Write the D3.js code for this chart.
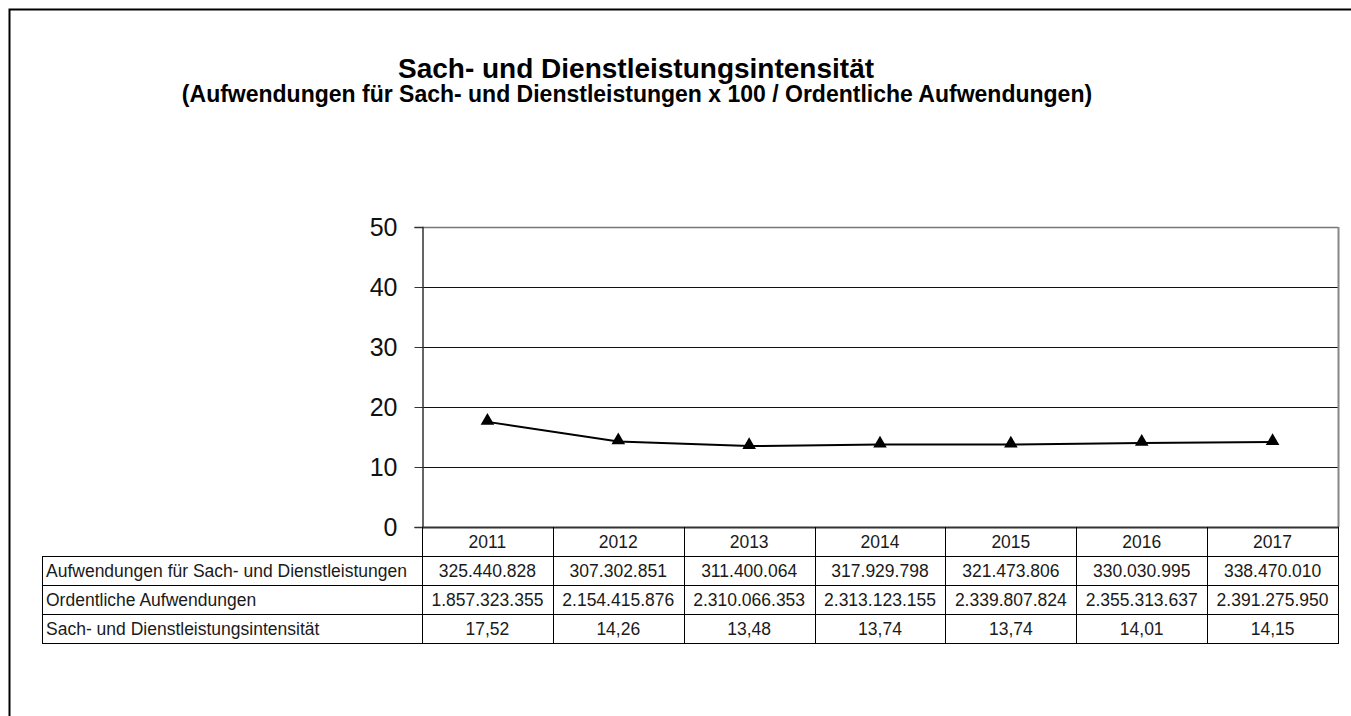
<!DOCTYPE html>
<meta charset="utf-8">
<style>
body { margin: 0; background: #fff; }
svg { display: block; font-family: "Liberation Sans", Arial, sans-serif; }
.tbl line { stroke: #000; stroke-width: 1; }
.tbl text { font-size: 17.5px; fill: #1a1a1a; }
</style>
<svg width="1351" height="716"></svg>
<script src="https://d3js.org/d3.v7.min.js"></script>
<script>

var years = ["2011", "2012", "2013", "2014", "2015", "2016", "2017"];
var aufwSach = [325440828, 307302851, 311400064, 317929798, 321473806, 330030995, 338470010];
var ordAufw = [1857323355, 2154415876, 2310066353, 2313123155, 2339807824, 2355313637, 2391275950];
var intensitaet = [17.52, 14.26, 13.48, 13.74, 13.74, 14.01, 14.15];
var yTicks = [0, 10, 20, 30, 40, 50];
var rowLabels = ["Aufwendungen für Sach- und Dienstleistungen", "Ordentliche Aufwendungen", "Sach- und Dienstleistungsintensität"];

var de = d3.formatLocale({decimal: ",", thousands: ".", grouping: [3], currency: ["", " €"]});
var fmtInt = de.format(",.0f"),
    fmtDec = de.format(",.2f");

var svg = d3.select("svg");

// sheet frame, only left and top edge are visible
svg.append("path")
    .attr("d", "M9.5,716V9.5H1351")
    .attr("fill", "none")
    .attr("stroke", "#000")
    .attr("stroke-width", 2);

// titles
svg.append("text")
    .attr("x", 636).attr("y", 78)
    .attr("text-anchor", "middle")
    .style("font-weight", "bold").style("font-size", "28px")
    .text("Sach- und Dienstleistungsintensität");
svg.append("text")
    .attr("x", 637).attr("y", 102)
    .attr("text-anchor", "middle")
    .style("font-weight", "bold").style("font-size", "23px")
    .text("(Aufwendungen für Sach- und Dienstleistungen x 100 / Ordentliche Aufwendungen)");

var plotLeft = 422, plotRight = 1338, plotTop = 227, plotBottom = 527,
    rowH = 29, yearH = 29, labelLeft = 42;

var x = d3.scaleBand().domain(years).range([plotLeft, plotRight]).padding(0);
var y = d3.scaleLinear().domain([0, 50]).range([plotBottom, plotTop]);

// gridlines
svg.append("g")
  .selectAll("line")
  .data(yTicks.filter(function(d) { return d > 0; }))
  .enter().append("line")
    .attr("x1", plotLeft).attr("x2", plotRight)
    .attr("y1", function(d) { return Math.round(y(d)) + 0.5; })
    .attr("y2", function(d) { return Math.round(y(d)) + 0.5; })
    .attr("stroke", function(d) { return d === 50 ? "#777" : "#111"; })
    .attr("stroke-width", function(d) { return d === 50 ? 1.5 : 1; });

// right border of plot area
svg.append("line")
    .attr("x1", plotRight + 0.5).attr("x2", plotRight + 0.5)
    .attr("y1", plotTop).attr("y2", plotBottom)
    .attr("stroke", "#888").attr("stroke-width", 2);

// y axis
var yAxis = svg.append("g")
    .attr("transform", "translate(" + (plotLeft + 0.5) + ",0)")
    .call(d3.axisLeft(y).tickValues(yTicks).tickSize(8).tickPadding(17));
yAxis.selectAll("text")
    .style("font-size", "25px")
    .style("font-family", "'Liberation Sans', Arial, sans-serif")
    .attr("fill", "#111");
yAxis.select(".domain").attr("stroke", "#333").attr("stroke-width", 1.5);
yAxis.selectAll(".tick line").attr("stroke", "#333");

// data table under the plot
var tbl = svg.append("g").attr("class", "tbl");
var tableBottom = plotBottom + yearH + rowH * 3;

var hLines = [
  {x1: plotLeft, y: plotBottom},
  {x1: labelLeft, y: plotBottom + yearH},
  {x1: labelLeft, y: plotBottom + yearH + rowH},
  {x1: labelLeft, y: plotBottom + yearH + rowH * 2},
  {x1: labelLeft, y: tableBottom}
];
tbl.selectAll("line.h").data(hLines).enter().append("line")
    .attr("class", "h")
    .attr("x1", function(d) { return d.x1; })
    .attr("x2", plotRight + 1)
    .attr("y1", function(d) { return d.y + 0.5; })
    .attr("y2", function(d) { return d.y + 0.5; })
    .style("stroke-width", function(d, i) { return i === 0 ? 2 : 1; })
    .style("stroke", function(d, i) { return i === 0 ? "#333" : "#000"; });

var vx = years.map(function(d) { return x(d); }).concat([plotRight]);
tbl.selectAll("line.v").data(vx).enter().append("line")
    .attr("class", "v")
    .attr("x1", function(d) { return Math.round(d) + 0.5; })
    .attr("x2", function(d) { return Math.round(d) + 0.5; })
    .attr("y1", plotBottom)
    .attr("y2", tableBottom + 1);
tbl.append("line")
    .attr("x1", labelLeft + 0.5).attr("x2", labelLeft + 0.5)
    .attr("y1", plotBottom + yearH).attr("y2", tableBottom + 1);

// years
tbl.selectAll("text.year").data(years).enter().append("text")
    .attr("class", "year")
    .attr("x", function(d) { return x(d) + x.bandwidth() / 2; })
    .attr("y", plotBottom + yearH - 8)
    .attr("text-anchor", "middle")
    .text(function(d) { return d; });

// row labels
tbl.selectAll("text.lbl").data(rowLabels).enter().append("text")
    .attr("class", "lbl")
    .attr("x", labelLeft + 4)
    .attr("y", function(d, i) { return plotBottom + yearH + rowH * (i + 1) - 8; })
    .text(function(d) { return d; });

// cells
var rows = [aufwSach.map(fmtInt), ordAufw.map(fmtInt), intensitaet.map(fmtDec)];
rows.forEach(function(vals, r) {
  tbl.selectAll("text.r" + r).data(vals).enter().append("text")
      .attr("class", "r" + r)
      .attr("x", function(d, i) { return x(years[i]) + x.bandwidth() / 2; })
      .attr("y", plotBottom + yearH + rowH * (r + 1) - 8)
      .attr("text-anchor", "middle")
      .text(function(d) { return d; });
});

// series line with triangle markers
var line = d3.line()
    .x(function(d, i) { return x(years[i]) + x.bandwidth() / 2; })
    .y(function(d) { return y(d); });

svg.append("path")
    .datum(intensitaet)
    .attr("d", line)
    .attr("fill", "none")
    .attr("stroke", "#000")
    .attr("stroke-width", 2);

svg.selectAll("path.marker")
  .data(intensitaet)
  .enter().append("path")
    .attr("class", "marker")
    .attr("transform", function(d, i) { return "translate(" + (x(years[i]) + x.bandwidth() / 2) + "," + (y(d) - 1) + ")"; })
    .attr("d", d3.symbol().type(d3.symbolTriangle).size(80))
    .attr("fill", "#000");

</script>
